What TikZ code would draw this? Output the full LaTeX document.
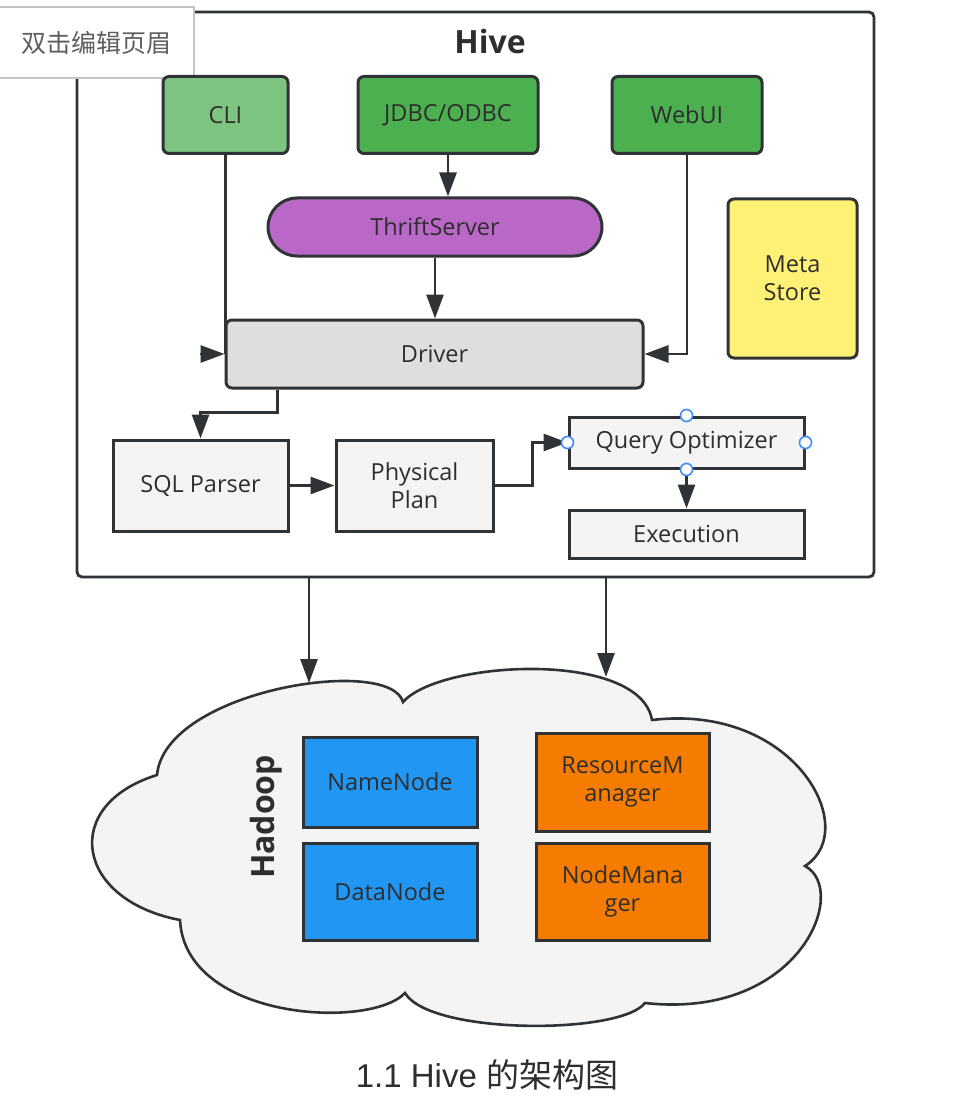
\documentclass[tikz,border=0pt]{standalone}
\usepackage{fontspec}
\setmainfont{Open Sans}
\newfontfamily\cjk{Noto Sans CJK SC}
\newfontfamily\arialf{Liberation Sans}
\usetikzlibrary{arrows.meta,calc}
\definecolor{linec}{HTML}{303335}
\definecolor{txt}{HTML}{2E2E2E}
\definecolor{clig}{HTML}{7CC47F}
\definecolor{dgreen}{HTML}{4CAF50}
\definecolor{purp}{HTML}{BA68C8}
\definecolor{drv}{HTML}{DEDEDE}
\definecolor{meta}{HTML}{FFF176}
\definecolor{lgray}{HTML}{F4F4F4}
\definecolor{blu}{HTML}{2196F3}
\definecolor{orng}{HTML}{F57C00}
\definecolor{hblue}{HTML}{3D8BFF}
\definecolor{hdrline}{HTML}{C4C4C4}
\definecolor{hdrtxt}{HTML}{5E5E5E}
\begin{document}
\begin{tikzpicture}[x=1pt,y=-1pt,
  box/.style={draw=linec, line width=3pt, text=txt, font=\fontsize{23.5}{28}\selectfont, inner sep=0pt, align=center},
  arr/.style={draw=linec, line width=2.8pt, -{Triangle[length=24pt,width=17pt]}},
  plainline/.style={draw=linec, line width=2.8pt},
  handle/.style={circle, draw=hblue, fill=white, line width=1.6pt, minimum size=12pt, inner sep=0pt}]
\useasboundingbox (0,0) rectangle (952,1099);
\fill[white] (0,0) rectangle (952,1099);

% Hive container
\node[draw=linec, line width=2.8pt, rounded corners=5pt, minimum width=797pt, minimum height=565pt, inner sep=0pt] (hive) at (475.5,294.5) {};
\node[text=txt, font=\fontsize{32}{36}\selectfont\bfseries] (hivetitle) at (490,42) {Hive};

% header label
\node[draw=hdrline, fill=white, line width=1.2pt, minimum width=195pt, minimum height=71pt, inner sep=0pt, text=hdrtxt, font=\cjk\fontsize{25}{28}\selectfont] (header) at (96.5,42.5) {双击编辑页眉};

% top clients
\node[box, fill=clig, rounded corners=6pt, minimum width=125pt, minimum height=77pt] (CLI) at (225.5,115) {CLI};
\node[box, fill=dgreen, rounded corners=6pt, minimum width=180pt, minimum height=77pt] (JDBC) at (448,115) {JDBC/ODBC};
\node[box, fill=dgreen, rounded corners=6pt, minimum width=150pt, minimum height=77pt] (WebUI) at (687,115) {WebUI};

\node[box, fill=purp, rounded corners=29pt, minimum width=334pt, minimum height=58pt] (Thrift) at (435,227) {ThriftServer};
\node[box, fill=meta, rounded corners=6pt, minimum width=129pt, minimum height=159pt] (Meta) at (792.5,278.5) {Meta\\Store};
\node[box, fill=drv, rounded corners=6pt, minimum width=417pt, minimum height=68pt] (Driver) at (434.5,354) {Driver};

\node[box, fill=lgray, minimum width=175pt, minimum height=91pt] (SQL) at (200.5,485.5) {SQL Parser};
\node[box, fill=lgray, minimum width=157pt, minimum height=91pt] (Phys) at (414.5,485.5) {Physical\\Plan};
\node[box, fill=lgray, minimum width=235pt, minimum height=51pt] (QO) at (686.5,442.5) {Query Optimizer};
\node[box, fill=lgray, minimum width=235pt, minimum height=48pt] (Exec) at (686.5,534) {Execution};

% connectors inside Hive
\draw[plainline] (CLI.south) -- (CLI.south |- Driver.west);
\draw[arr] ($(Driver.west)+(-25,0)$) -- (Driver.west);
\draw[arr] (JDBC.south) -- (JDBC.south |- Thrift.north);
\draw[arr] (Thrift.south) -- (Thrift.south |- Driver.north);
\draw[arr] (WebUI.south) |- (Driver.east);
\draw[arr] ($(Driver.south west)+(53,0)$) -- ++(0,23) -| (SQL.north);
\draw[arr] (SQL.east) -- (Phys.west);
\draw[arr] (Phys.east) -- ++(38,0) |- (QO.west);
\draw[arr] (QO.south) -- (Exec.north);

\node[handle] (hW) at (QO.west) {};
\node[handle] (hE) at (QO.east) {};
\node[handle] (hN) at (QO.north) {};
\node[handle] (hS) at (QO.south) {};

% cloud
\draw[draw=linec, fill=lgray, line width=2.6pt, line join=miter]
  (157,775) .. controls (165,690) and (390,655) .. (403,702)
  .. controls (440,660) and (640,650) .. (652,720)
  .. controls (795,703) and (862,830) .. (805,866)
  .. controls (850,890) and (800,1020) .. (645,1003)
  .. controls (620,1035) and (430,1035) .. (405,993)
  .. controls (370,1030) and (185,1020) .. (180,920)
  .. controls (75,900) and (60,805) .. cycle;

\coordinate (cl1) at (309,683);
\coordinate (cl2) at (606,677);
\draw[arr] (hive.south -| cl1) -- (cl1);
\draw[arr] (hive.south -| cl2) -- (cl2);

\node[text=txt, font=\fontsize{32}{36}\selectfont\bfseries, rotate=90] (hadoop) at (266,817) {Hadoop};
\node[box, fill=blu, minimum width=174pt, minimum height=90pt] (NN) at (390,782) {NameNode};
\node[box, fill=blu, minimum width=174pt, minimum height=97pt] (DN) at (390,891.5) {DataNode};
\node[box, fill=orng, minimum width=173pt, minimum height=98pt] (RM) at (622.5,782) {ResourceM\\anager};
\node[box, fill=orng, minimum width=173pt, minimum height=97pt] (NM) at (622.5,891.5) {NodeMana\\ger};

% caption
\node[text=txt, font=\fontsize{33}{36}\selectfont] (caption) at (487,1075) {{\arialf 1.1 Hive }{\cjk 的架构图}};
\end{tikzpicture}
\end{document}
